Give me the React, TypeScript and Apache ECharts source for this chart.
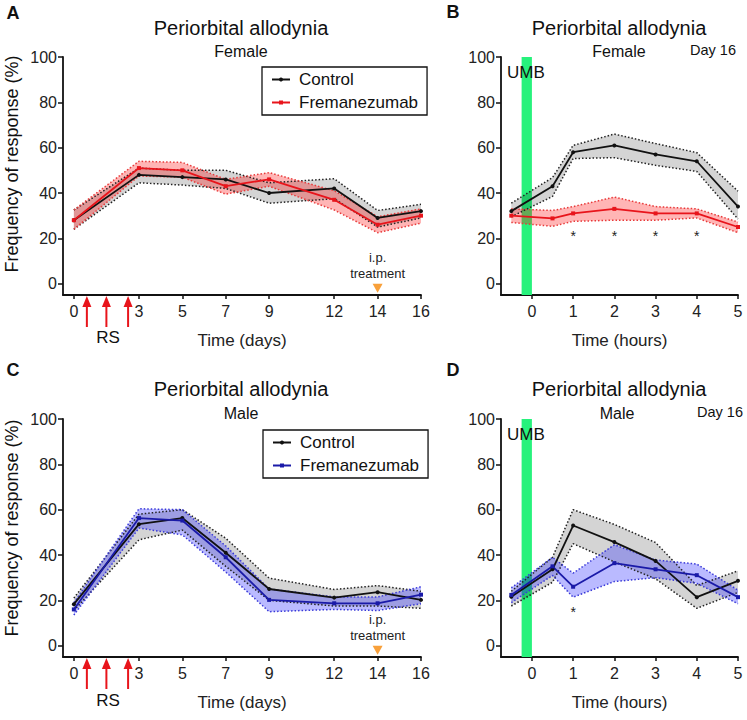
import React, { useEffect, useRef } from 'react';
import * as echarts from 'echarts';

// ---------- data ----------
const dayTicks = [0, 3, 5, 7, 9, 12, 14, 16];
const hourTicks = [0, 1, 2, 3, 4, 5];
const yTicks = [0, 20, 40, 60, 80, 100];

const days = [0, 3, 5, 7, 9, 12, 14, 16];
const femCtrl = [28, 48, 47, 46, 40, 42, 29, 32];
const femCtrlHi = [32.5, 51, 50, 50, 44.5, 46.3, 32.3, 35];
const femCtrlLo = [24, 44.5, 43.5, 42, 35.5, 37.5, 25, 29];
const femFrem = [28, 51, 50, 43, 46, 37, 26, 30];
const femFremHi = [32.5, 54, 53.5, 46, 49, 41, 29.5, 33];
const femFremLo = [24, 47.5, 47, 39.5, 43, 32.5, 22.5, 26.7];

const maleCtrl = [18.3, 53.6, 56.3, 41, 25, 21.2, 23.6, 20.2];
const maleCtrlHi = [21, 58, 60, 47.4, 29.8, 24.8, 26.5, 24];
const maleCtrlLo = [15.5, 46.7, 51, 35, 20, 17.5, 17.5, 16.5];
const maleFrem = [16, 56.3, 55.2, 39, 20.2, 18.7, 18.7, 22.5];
const maleFremHi = [19, 60.4, 60, 44, 25, 21.5, 21.5, 26];
const maleFremLo = [13.5, 51.9, 48.9, 32.5, 15, 16, 15.5, 18.5];

const hours = [-0.5, 0.5, 1, 2, 3, 4, 5];
const femHCtrl = [32, 43, 58, 61, 57, 54, 34];
const femHCtrlHi = [35.5, 46.8, 61, 66, 61.8, 57.8, 40.8];
const femHCtrlLo = [29.5, 38.5, 55.2, 55.6, 52.2, 49.5, 28.5];
const femHFrem = [30, 28.8, 31, 33, 31, 31, 25];
const femHFremHi = [33, 32.3, 34, 38.2, 34, 33, 27.2];
const femHFremLo = [27, 25.3, 27.5, 28, 28, 29, 22.5];

const maleHCtrl = [21.6, 33.7, 53, 45.7, 37.4, 21.4, 28.6];
const maleHCtrlHi = [24, 39, 60, 53.5, 45.5, 26.5, 33];
const maleHCtrlLo = [17.5, 28, 45, 37, 29.5, 16.5, 23.5];
const maleHFrem = [22.4, 35, 26, 36.4, 33.7, 31.1, 21.4];
const maleHFremHi = [25.5, 39, 32, 44.5, 37.8, 36, 24.5];
const maleHFremLo = [19, 31, 21.4, 28.3, 30, 27.5, 18.5];

const rsDays = [0.6, 1.5, 2.5];
const ipDay = 14;
const umbRange = [-0.25, 0];
const starsFemHours = [1, 2, 3, 4];
const starFemLevel = 21;
const starsMaleHours = [1];
const starMaleLevel = 15;

// ---------- styles ----------
const FONT = "'Liberation Sans', Arial, Helvetica, sans-serif";
const BLACK = '#111111';
const RED = '#e8141b';
const BLUE = '#1a1aa8';
const GREY_FILL = 'rgba(0,0,0,0.17)';
const RED_FILL = 'rgba(255,0,0,0.29)';
const BLUE_FILL = 'rgba(40,40,255,0.32)';
const GREEN = '#27f27c';
const ORANGE = '#f8a03a';
const Y_MIN = -5;
const Y_MAX = 100;

const grids = [
  { left: 63, top: 57, width: 358, height: 238 },
  { left: 501, top: 57, width: 237, height: 238 },
  { left: 63, top: 419, width: 358, height: 238 },
  { left: 501, top: 419, width: 237, height: 238 },
];

const axisLine = { show: true, onZero: false, lineStyle: { color: BLACK, width: 1.8 } };

const mkX = (gi: number, min: number, max: number, ticks: number[], name: string) => ({
  type: 'value', gridIndex: gi, min, max,
  axisLine,
  axisTick: { show: true, length: 4, customValues: ticks, lineStyle: { color: BLACK, width: 1.5 } },
  axisLabel: { fontSize: 16, color: '#222', fontFamily: FONT, margin: 8, customValues: ticks },
  splitLine: { show: false },
  name, nameLocation: 'middle', nameGap: 37,
  nameTextStyle: { fontSize: 17, color: '#222', fontFamily: FONT },
});

const mkY = (gi: number) => ({
  type: 'value', gridIndex: gi, min: Y_MIN, max: Y_MAX,
  axisLine,
  axisTick: { show: true, length: 5, customValues: yTicks, lineStyle: { color: BLACK, width: 1.5 } },
  axisLabel: { fontSize: 16, color: '#222', fontFamily: FONT, margin: 6, customValues: yTicks },
  splitLine: { show: false },
});

const band = (gi: number, xs: number[], lo: number[], hi: number[], fill: string) => ({
  type: 'custom', name: 'band', xAxisIndex: gi, yAxisIndex: gi, silent: true, z: 2,
  data: xs.map((x, i) => [x, lo[i], hi[i]]),
  encode: { x: 0, y: [1, 2] },
  renderItem: (params: any, api: any) => {
    if (params.dataIndex !== 0) return null;
    const up = xs.map((x, i) => api.coord([x, hi[i]]));
    const dn = xs.map((x, i) => api.coord([x, lo[i]])).reverse();
    return { type: 'polygon', shape: { points: up.concat(dn) }, style: { fill } };
  },
});

const dotted = (gi: number, xs: number[], ys: number[], color: string) => ({
  type: 'line', name: 'edge', xAxisIndex: gi, yAxisIndex: gi, silent: true, z: 3,
  data: xs.map((x, i) => [x, ys[i]]),
  symbol: 'none',
  lineStyle: { color, width: 1.5, type: [1.5, 2] },
});

const mainLine = (gi: number, xs: number[], ys: number[], color: string, name: string, symbol: string) => ({
  type: 'line', name, xAxisIndex: gi, yAxisIndex: gi, z: 4,
  data: xs.map((x, i) => [x, ys[i]]),
  symbol, symbolSize: 4, showSymbol: true,
  itemStyle: { color },
  lineStyle: { color, width: 1.8 },
});

const panel = (
  gi: number, xs: number[],
  c: number[], cHi: number[], cLo: number[],
  t: number[], tHi: number[], tLo: number[],
  tColor: string, tFill: string, tEdge: string,
) => [
  band(gi, xs, cLo, cHi, GREY_FILL),
  band(gi, xs, tLo, tHi, tFill),
  dotted(gi, xs, cHi, '#222'),
  dotted(gi, xs, cLo, '#222'),
  dotted(gi, xs, tHi, tEdge),
  dotted(gi, xs, tLo, tEdge),
  mainLine(gi, xs, c, BLACK, 'Control', 'circle'),
  mainLine(gi, xs, t, tColor, 'Fremanezumab', 'rect'),
];

const umbBar = (gi: number) => ({
  type: 'custom', name: 'umb', xAxisIndex: gi, yAxisIndex: gi, silent: true, z: 1,
  data: [[umbRange[0], umbRange[1], 0]],
  encode: { x: [0, 1], y: 2 },
  renderItem: (params: any, api: any) => {
    const a = api.coord([api.value(0), Y_MAX]);
    const b = api.coord([api.value(1), Y_MIN]);
    return { type: 'rect', shape: { x: a[0], y: a[1], width: b[0] - a[0], height: b[1] - a[1] }, style: { fill: GREEN } };
  },
});

const rsArrows = (gi: number) => ({
  type: 'custom', name: 'rs', xAxisIndex: gi, yAxisIndex: gi, silent: true, z: 6,
  data: rsDays.map((d) => [d, Y_MIN]),
  encode: { x: 0, y: 1 },
  renderItem: (params: any, api: any) => {
    const [cx, cy] = api.coord([api.value(0), api.value(1)]);
    return {
      type: 'group',
      children: [
        { type: 'line', shape: { x1: cx, y1: cy + 10, x2: cx, y2: cy + 32 }, style: { stroke: RED, lineWidth: 2 } },
        { type: 'polygon', shape: { points: [[cx, cy + 1], [cx - 4.5, cy + 12], [cx + 4.5, cy + 12]] }, style: { fill: RED } },
      ],
    };
  },
});

const ipMark = (gi: number) => ({
  type: 'custom', name: 'ip', xAxisIndex: gi, yAxisIndex: gi, silent: true, z: 6,
  data: [[ipDay, 0]],
  encode: { x: 0, y: 1 },
  renderItem: (params: any, api: any) => {
    const [cx, cy] = api.coord([api.value(0), api.value(1)]);
    return {
      type: 'group',
      children: [
        { type: 'polygon', shape: { points: [[cx - 5, cy], [cx + 5, cy], [cx, cy + 9]] }, style: { fill: ORANGE } },
        { type: 'text', x: cx, y: cy - 26, style: { text: 'i.p.', fill: '#222', fontSize: 13, fontFamily: FONT, align: 'center', verticalAlign: 'middle' } },
        { type: 'text', x: cx, y: cy - 10, style: { text: 'treatment', fill: '#222', fontSize: 13, fontFamily: FONT, align: 'center', verticalAlign: 'middle' } },
      ],
    };
  },
});

const stars = (gi: number, xs: number[], level: number) => ({
  type: 'custom', name: 'stars', xAxisIndex: gi, yAxisIndex: gi, silent: true, z: 6,
  data: xs.map((x) => [x, level]),
  encode: { x: 0, y: 1 },
  renderItem: (params: any, api: any) => {
    const [cx, cy] = api.coord([api.value(0), api.value(1)]);
    return { type: 'text', x: cx, y: cy, style: { text: '*', fill: '#222', fontSize: 14, fontFamily: FONT, align: 'center', verticalAlign: 'middle' } };
  },
});

const txt = (text: string, x: number, y: number, size: number, extra: any = {}) => ({
  type: 'text', x, y, silent: true, z: 10,
  style: { text, fill: '#111', fontSize: size, fontFamily: FONT, align: 'center', verticalAlign: 'middle', ...extra },
});

const legendCommon = {
  orient: 'vertical', selectedMode: false,
  padding: [4, 9, 4, 9], itemGap: 6, itemWidth: 18, itemHeight: 5,
  borderColor: BLACK, borderWidth: 1.3,
  textStyle: { fontSize: 17, color: '#111', fontFamily: FONT, padding: [0, 0, 0, 4] },
};

export default function App() {
  const ref = useRef<HTMLDivElement>(null);
  useEffect(() => {
    if (!ref.current) return;
    const chart = echarts.init(ref.current, undefined, { renderer: 'svg' });
    const option: any = {
      animation: false,
      grid: grids,
      xAxis: [
        mkX(0, -0.5, 16, dayTicks, 'Time (days)'),
        mkX(1, -0.75, 5, hourTicks, 'Time (hours)'),
        mkX(2, -0.5, 16, dayTicks, 'Time (days)'),
        mkX(3, -0.75, 5, hourTicks, 'Time (hours)'),
      ],
      yAxis: [mkY(0), mkY(1), mkY(2), mkY(3)],
      legend: [
        { ...legendCommon, left: 262, top: 67, data: [{ name: 'Control' }, { name: 'Fremanezumab', itemStyle: { color: RED }, lineStyle: { color: RED } }] },
        { ...legendCommon, left: 263, top: 430, data: [{ name: 'Control' }, { name: 'Fremanezumab', itemStyle: { color: BLUE }, lineStyle: { color: BLUE } }] },
      ],
      series: [
        umbBar(1),
        umbBar(3),
        ...panel(0, days, femCtrl, femCtrlHi, femCtrlLo, femFrem, femFremHi, femFremLo, RED, RED_FILL, '#e83a3a'),
        ...panel(1, hours, femHCtrl, femHCtrlHi, femHCtrlLo, femHFrem, femHFremHi, femHFremLo, RED, RED_FILL, '#e83a3a'),
        ...panel(2, days, maleCtrl, maleCtrlHi, maleCtrlLo, maleFrem, maleFremHi, maleFremLo, BLUE, BLUE_FILL, '#3a3ad8'),
        ...panel(3, hours, maleHCtrl, maleHCtrlHi, maleHCtrlLo, maleHFrem, maleHFremHi, maleHFremLo, BLUE, BLUE_FILL, '#3a3ad8'),
        rsArrows(0),
        rsArrows(2),
        ipMark(0),
        ipMark(2),
        stars(1, starsFemHours, starFemLevel),
        stars(3, starsMaleHours, starMaleLevel),
      ],
      graphic: [
        txt('A', 13, 13, 18, { fontWeight: 'bold' }),
        txt('B', 453, 12, 18, { fontWeight: 'bold' }),
        txt('C', 13, 370, 18, { fontWeight: 'bold' }),
        txt('D', 453, 370, 18, { fontWeight: 'bold' }),
        txt('Periorbital allodynia', 241, 28, 20),
        txt('Female', 241, 51, 16),
        txt('Periorbital allodynia', 619, 28, 20),
        txt('Female', 619, 51, 16),
        txt('Day 16', 713, 50, 14.5),
        txt('Periorbital allodynia', 241, 389, 20),
        txt('Male', 241, 413, 16),
        txt('Periorbital allodynia', 619, 389, 20),
        txt('Male', 617, 413, 16),
        txt('Day 16', 720, 412, 14.5),
        txt('UMB', 507, 72.5, 17, { align: 'left' }),
        txt('UMB', 507, 434, 17, { align: 'left' }),
        txt('RS', 108, 337, 17),
        txt('RS', 108, 700, 17),
        { ...txt('Frequency of response (%)', 12, 164, 18), rotation: Math.PI / 2 },
        { ...txt('Frequency of response (%)', 12, 528, 18), rotation: Math.PI / 2 },
      ],
    };
    chart.setOption(option);
    return () => chart.dispose();
  }, []);
  return <div ref={ref} style={{ position: 'fixed', left: 0, top: 0, width: 747, height: 720, background: '#fff' }} />;
}
